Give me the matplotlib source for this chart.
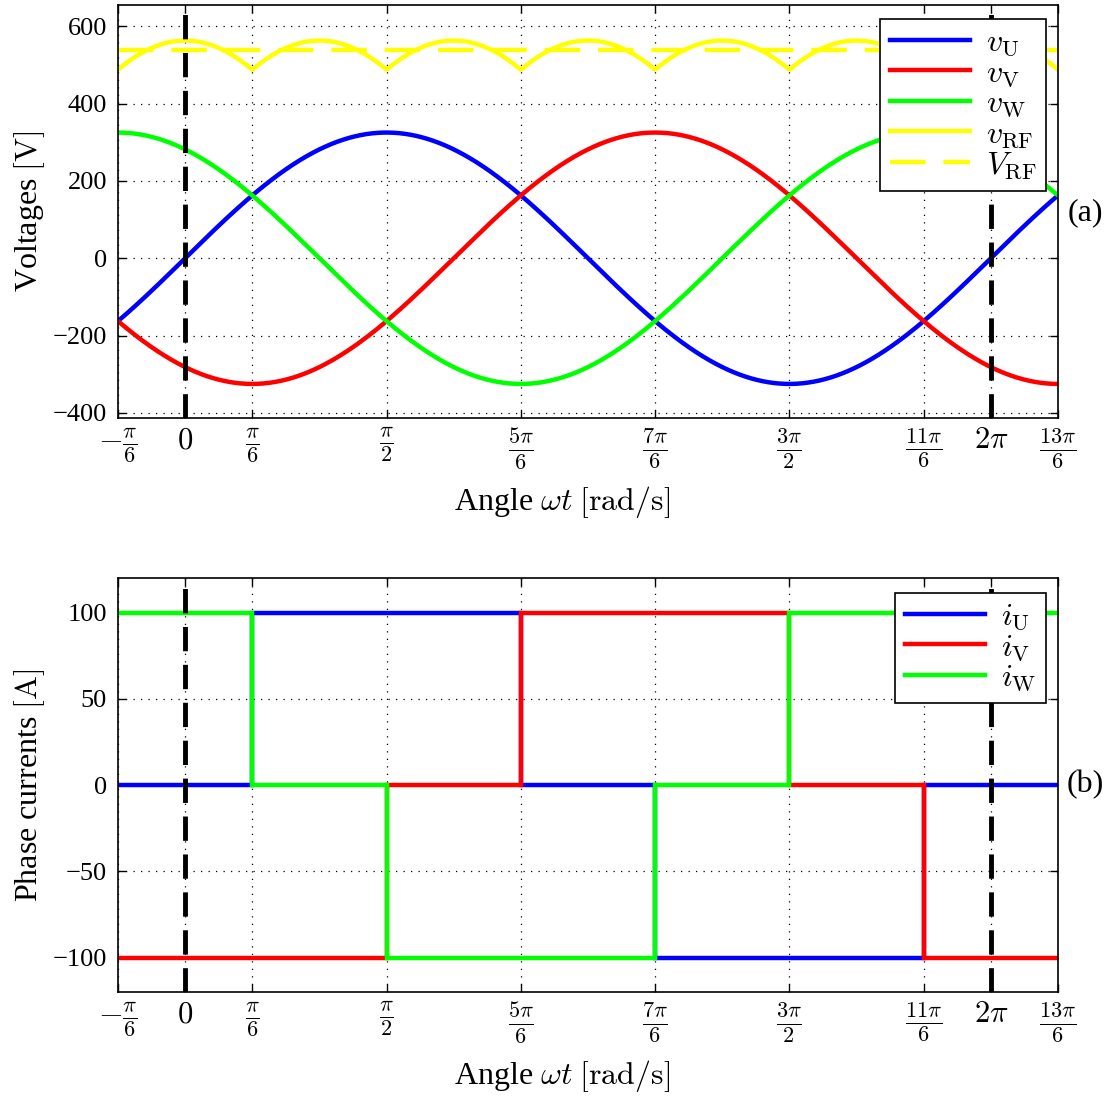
import numpy as np
import matplotlib
matplotlib.use("Agg")
import matplotlib.pyplot as plt

plt.rcParams['font.family'] = ['Liberation Serif', 'DejaVu Serif']
plt.rcParams['mathtext.fontset'] = 'cm'

# ---- data ----
amplitude_V = 325.0            # peak phase voltage
phase_deg = {'U': 0.0, 'V': -120.0, 'W': 120.0}
V_RF_mean = 538.0              # dashed rectified mean value

# currents: step edges in units of pi/6, levels per segment
edges_pi6 = [-1, 1, 3, 5, 7, 9, 11, 13]
i_U = [0, 100, 100, 0, -100, -100, 0]
i_V = [-100, -100, 0, 100, 100, 0, -100]
i_W = [100, 0, -100, -100, 0, 100, 100]

xtick_pi6 = [-1, 0, 1, 3, 5, 7, 9, 11, 12, 13]
xtick_labels = [r'$-\frac{\pi}{6}$', r'$0$', r'$\frac{\pi}{6}$', r'$\frac{\pi}{2}$',
                r'$\frac{5\pi}{6}$', r'$\frac{7\pi}{6}$', r'$\frac{3\pi}{2}$',
                r'$\frac{11\pi}{6}$', r'$2\pi$', r'$\frac{13\pi}{6}$']
big_labels = {r'$0$', r'$2\pi$'}

# ---- figure ----
fig = plt.figure(figsize=(11.09, 10.97), dpi=100)
ax1 = fig.add_axes([0.1064, 0.619, 0.8476, 0.3765])
ax2 = fig.add_axes([0.1064, 0.0957, 0.8476, 0.3774])

x = np.linspace(-np.pi/6, 13*np.pi/6, 1500)
vU = amplitude_V*np.sin(x + np.deg2rad(phase_deg['U']))
vV = amplitude_V*np.sin(x + np.deg2rad(phase_deg['V']))
vW = amplitude_V*np.sin(x + np.deg2rad(phase_deg['W']))
stack = np.vstack([vU, vV, vW])
vRF = stack.max(axis=0) - stack.min(axis=0)

lw = 3.2
ax1.plot(x, vU, color=(0, 0, 1), lw=lw, label=r'$v_{\mathrm{U}}$')
ax1.plot(x, vV, color=(1, 0, 0), lw=lw, label=r'$v_{\mathrm{V}}$')
ax1.plot(x, vW, color=(0, 1, 0), lw=lw, label=r'$v_{\mathrm{W}}$')
ax1.plot(x, vRF, color=(1, 1, 0), lw=lw, label=r'$v_{\mathrm{RF}}$')
ax1.plot([x[0], x[-1]], [V_RF_mean, V_RF_mean], color=(1, 1, 0), lw=lw,
         linestyle=(0, (8, 4)), label=r'$V_{\mathrm{RF}}$')

edges = np.array(edges_pi6)*np.pi/6
ax2.stairs(i_U, edges, baseline=None, color=(0, 0, 1), lw=lw, label=r'$i_{\mathrm{U}}$')
ax2.stairs(i_V, edges, baseline=None, color=(1, 0, 0), lw=lw, label=r'$i_{\mathrm{V}}$')
ax2.stairs(i_W, edges, baseline=None, color=(0, 1, 0), lw=lw, label=r'$i_{\mathrm{W}}$')

for ax in (ax1, ax2):
    ax.set_axisbelow(True)
    for xv in (0, 2*np.pi):
        ax.axvline(xv, color='k', lw=3.5, linestyle=(0, (5, 2.8)), zorder=5)
    ax.set_xlim(-np.pi/6, 13*np.pi/6)
    ax.set_xticks(np.array(xtick_pi6)*np.pi/6)
    ax.set_xticklabels(xtick_labels)
    ax.tick_params(axis='both', direction='in', top=True, right=True,
                   length=6, width=1, labelsize=19, pad=8)
    ax.tick_params(axis='x', pad=6)
    for t in ax.get_xticklabels():
        if t.get_text() in big_labels:
            t.set_fontsize(22)
        else:
            t.set_fontsize(23)
    ax.grid(True, color='k', linestyle=(0, (1, 5)), lw=0.9)
    for s in ax.spines.values():
        s.set_linewidth(1.2)
    ax.text(0.472, -0.203, r'Angle $\omega t$ $[\mathrm{rad/s}]$', fontsize=23,
            ha='center', va='center', transform=ax.transAxes)

ax1.set_ylim(-413, 655)
ax1.set_yticks([-400, -200, 0, 200, 400, 600])
ax1.set_yticklabels(['\u2212400', '\u2212200', '0', '200', '400', '600'])
ax1.set_ylabel(r'Voltages $[\mathrm{V}]$', fontsize=23, labelpad=4)

ax2.set_ylim(-120, 120)
ax2.set_yticks([-100, -50, 0, 50, 100])
ax2.set_yticklabels(['\u2212100', '\u221250', '0', '50', '100'])
ax2.set_ylabel(r'Phase currents $[\mathrm{A}]$', fontsize=23, labelpad=4)

leg_kw = dict(frameon=True, fancybox=False, framealpha=1, edgecolor='k',
              fontsize=23, handlelength=2.5, borderpad=0.3, labelspacing=0.02,
              handletextpad=0.5, borderaxespad=0)
l1 = ax1.legend(loc='upper right', bbox_to_anchor=(0.987, 0.966), **leg_kw)
l2 = ax2.legend(loc='upper right', bbox_to_anchor=(0.987, 0.964), **leg_kw)
for l in (l1, l2):
    l.get_frame().set_linewidth(1.2)
    l.set_zorder(10)

fig.text(1085/1109, 1-213/1097, '(a)', fontsize=23, ha='center', va='center')
fig.text(1085/1109, 1-785/1097, '(b)', fontsize=23, ha='center', va='center')

fig.savefig('out.png', dpi=100)
